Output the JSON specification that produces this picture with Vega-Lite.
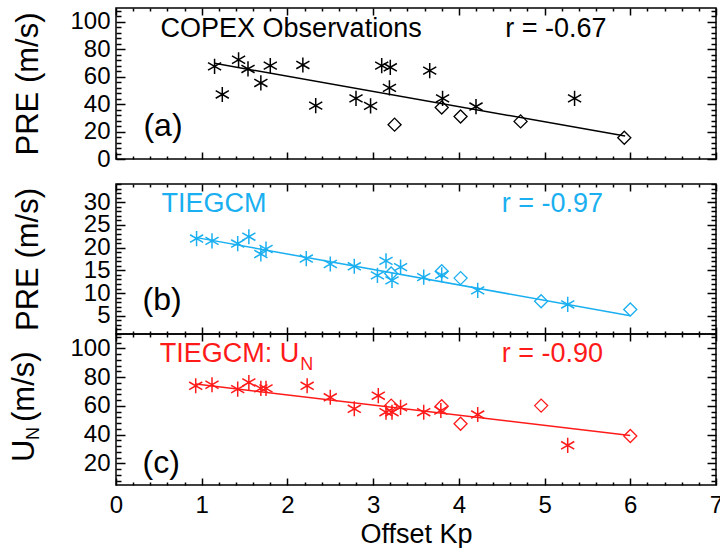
{
  "$schema": "https://vega.github.io/schema/vega-lite/v6.json",
  "padding": {"left": 8, "top": 6, "right": 0, "bottom": 0},
  "background": "white",
  "config": {
    "view": {"stroke": "black", "strokeWidth": 1.5},
    "axis": {"zindex": 2, "ticks": true, "domain": false, "tickColor": "#000000", "tickOpacity": 1, "tickWidth": 1.5, "tickCap": "butt", "labelFont": "Liberation Sans", "labelFontSize": 24, "labelColor": "black", "titleFont": "Liberation Sans", "titleFontSize": 31, "titleFontWeight": "normal", "titleColor": "black", "grid": false, "labelOverlap": false, "labelFlush": false, "labelBound": false, "format": "d"},
    "text": {"font": "Liberation Sans"}
  },
  "datasets": {
    "pts": [
      {"panel": "a", "series": "star", "x": 1.15, "y": 67.5},
      {"panel": "a", "series": "star", "x": 1.24, "y": 47},
      {"panel": "a", "series": "star", "x": 1.43, "y": 72.3},
      {"panel": "a", "series": "star", "x": 1.54, "y": 65.6},
      {"panel": "a", "series": "star", "x": 1.69, "y": 55.4},
      {"panel": "a", "series": "star", "x": 1.8, "y": 68},
      {"panel": "a", "series": "star", "x": 2.18, "y": 68.5},
      {"panel": "a", "series": "star", "x": 2.33, "y": 38.9},
      {"panel": "a", "series": "star", "x": 2.8, "y": 44.2},
      {"panel": "a", "series": "star", "x": 2.97, "y": 38.7},
      {"panel": "a", "series": "star", "x": 3.1, "y": 68},
      {"panel": "a", "series": "star", "x": 3.2, "y": 66.8},
      {"panel": "a", "series": "star", "x": 3.19, "y": 51.8},
      {"panel": "a", "series": "star", "x": 3.66, "y": 64.4},
      {"panel": "a", "series": "star", "x": 3.81, "y": 44.2},
      {"panel": "a", "series": "star", "x": 4.2, "y": 38.2},
      {"panel": "a", "series": "star", "x": 5.35, "y": 44.2},
      {"panel": "a", "series": "diamond", "x": 3.25, "y": 25},
      {"panel": "a", "series": "diamond", "x": 3.8, "y": 37.5},
      {"panel": "a", "series": "diamond", "x": 4.02, "y": 31},
      {"panel": "a", "series": "diamond", "x": 4.72, "y": 27.4},
      {"panel": "a", "series": "diamond", "x": 5.93, "y": 15.5},
      {"panel": "b", "series": "star", "x": 0.94, "y": 22.0},
      {"panel": "b", "series": "star", "x": 1.12, "y": 21.5},
      {"panel": "b", "series": "star", "x": 1.42, "y": 20.9},
      {"panel": "b", "series": "star", "x": 1.55, "y": 22.4},
      {"panel": "b", "series": "star", "x": 1.69, "y": 18.6},
      {"panel": "b", "series": "star", "x": 1.75, "y": 19.7},
      {"panel": "b", "series": "star", "x": 2.22, "y": 17.6},
      {"panel": "b", "series": "star", "x": 2.5, "y": 16.4},
      {"panel": "b", "series": "star", "x": 2.78, "y": 15.9},
      {"panel": "b", "series": "star", "x": 3.05, "y": 13.9},
      {"panel": "b", "series": "star", "x": 3.15, "y": 17.1},
      {"panel": "b", "series": "star", "x": 3.22, "y": 12.8},
      {"panel": "b", "series": "star", "x": 3.32, "y": 15.7},
      {"panel": "b", "series": "star", "x": 3.59, "y": 13.5},
      {"panel": "b", "series": "star", "x": 3.8, "y": 14.0},
      {"panel": "b", "series": "star", "x": 4.22, "y": 10.6},
      {"panel": "b", "series": "star", "x": 5.27, "y": 7.5},
      {"panel": "b", "series": "diamond", "x": 3.21, "y": 14.3},
      {"panel": "b", "series": "diamond", "x": 3.8, "y": 14.8},
      {"panel": "b", "series": "diamond", "x": 4.02, "y": 13.3},
      {"panel": "b", "series": "diamond", "x": 4.96, "y": 8.2},
      {"panel": "b", "series": "diamond", "x": 6.0, "y": 6.4},
      {"panel": "c", "series": "star", "x": 0.93, "y": 74},
      {"panel": "c", "series": "star", "x": 1.12, "y": 74.7},
      {"panel": "c", "series": "star", "x": 1.42, "y": 71.7},
      {"panel": "c", "series": "star", "x": 1.55, "y": 76.3},
      {"panel": "c", "series": "star", "x": 1.69, "y": 72.2},
      {"panel": "c", "series": "star", "x": 1.75, "y": 72.2},
      {"panel": "c", "series": "star", "x": 2.23, "y": 74},
      {"panel": "c", "series": "star", "x": 2.5, "y": 66},
      {"panel": "c", "series": "star", "x": 2.78, "y": 58},
      {"panel": "c", "series": "star", "x": 3.06, "y": 67.1},
      {"panel": "c", "series": "star", "x": 3.15, "y": 55.6},
      {"panel": "c", "series": "star", "x": 3.22, "y": 55.6},
      {"panel": "c", "series": "star", "x": 3.32, "y": 59},
      {"panel": "c", "series": "star", "x": 3.59, "y": 55.6},
      {"panel": "c", "series": "star", "x": 3.79, "y": 56.8},
      {"panel": "c", "series": "star", "x": 4.22, "y": 54},
      {"panel": "c", "series": "star", "x": 5.27, "y": 32.6},
      {"panel": "c", "series": "diamond", "x": 3.21, "y": 60.2},
      {"panel": "c", "series": "diamond", "x": 3.8, "y": 59.8},
      {"panel": "c", "series": "diamond", "x": 4.02, "y": 47.6},
      {"panel": "c", "series": "diamond", "x": 4.96, "y": 60.2},
      {"panel": "c", "series": "diamond", "x": 6.0, "y": 39.1}
    ],
    "fits": [
      {"panel": "a", "x": 1.15, "y": 69.7},
      {"panel": "a", "x": 5.94, "y": 16.7},
      {"panel": "b", "x": 0.94, "y": 22.2},
      {"panel": "b", "x": 6.0, "y": 5.0},
      {"panel": "c", "x": 0.93, "y": 75.2},
      {"panel": "c", "x": 6.0, "y": 39.5}
    ],
    "notes": [
      {"panel": "a", "role": "label", "x": 0.52, "y": 95, "text": "COPEX Observations"},
      {"panel": "a", "role": "label", "x": 4.54, "y": 95, "text": "r = -0.67"},
      {"panel": "a", "role": "tag", "x": 0.32, "y": 24, "text": "(a)"},
      {"panel": "b", "role": "label", "x": 0.53, "y": 29.5, "text": "TIEGCM"},
      {"panel": "b", "role": "label", "x": 4.5, "y": 29.5, "text": "r = -0.97"},
      {"panel": "b", "role": "tag", "x": 0.31, "y": 8.4, "text": "(b)"},
      {"panel": "c", "role": "label", "x": 0.51, "y": 95.9, "text": "TIEGCM: U"},
      {"panel": "c", "role": "sub", "x": 2.15, "y": 88.5, "text": "N"},
      {"panel": "c", "role": "label", "x": 4.5, "y": 95.9, "text": "r = -0.90"},
      {"panel": "c", "role": "tag", "x": 0.31, "y": 20.5, "text": "(c)"},
      {"panel": "c", "role": "ytitle", "x": -1.06, "y": 21, "text": "U"},
      {"panel": "c", "role": "ytitle", "x": -1.06, "y": 48.8, "text": "(m/s)"},
      {"panel": "c", "role": "ysub", "x": -0.96, "y": 36.3, "text": "N"}
    ]
  },
  "spacing": 25,
  "bounds": "flush",
  "vconcat": [
    {
      "width": 600, "height": 151,
      "resolve": {"axis": {"x": "independent", "y": "independent"}},
      "layer": [
        {"data": {"name": "fits"}, "transform": [{"filter": "datum.panel === 'a'"}],
         "mark": {"type": "line", "color": "black", "strokeWidth": 1.5},
         "encoding": {
           "x": {"field": "x", "type": "quantitative", "scale": {"domain": [0, 7], "nice": false, "zero": false},
                 "axis": {"orient": "bottom", "values": [0,1,2,3,4,5,6,7], "labels": false, "title": null, "tickSize": 7, "offset": -7}},
           "y": {"field": "y", "type": "quantitative", "scale": {"domain": [0, 110], "nice": false, "zero": false},
                 "axis": {"orient": "left", "values": [0,20,40,60,80,100], "tickSize": 9, "offset": -9, "labelPadding": 6,
                          "title": "PRE (m/s)", "titleX": -97, "titleY": 75.5, "titleAngle": 270, "titleAlign": "center", "titleBaseline": "middle"}}
         }},
        {"data": {"name": "pts"}, "transform": [{"filter": "datum.panel === 'a' && datum.series === 'star'"}],
         "mark": {"type": "point", "shape": "M0,-1L0,1M-0.866,-0.5L0.866,0.5M-0.866,0.5L0.866,-0.5", "filled": false, "stroke": "black", "strokeWidth": 1.5, "size": 230, "opacity": 1},
         "encoding": {
           "x": {"field": "x", "type": "quantitative", "scale": {"domain": [0, 7], "nice": false, "zero": false},
                 "axis": {"orient": "top", "values": [0,1,2,3,4,5,6,7], "labels": false, "title": null, "tickSize": 7, "offset": -7}},
           "y": {"field": "y", "type": "quantitative", "scale": {"domain": [0, 110], "nice": false, "zero": false},
                 "axis": {"orient": "right", "values": [0,20,40,60,80,100], "labels": false, "title": null, "tickSize": 9, "offset": -9}}
         }},
        {"data": {"name": "pts"}, "transform": [{"filter": "datum.panel === 'a' && datum.series === 'diamond'"}],
         "mark": {"type": "point", "shape": "diamond", "filled": false, "stroke": "black", "strokeWidth": 1.3, "size": 170, "opacity": 1},
         "encoding": {
           "x": {"field": "x", "type": "quantitative", "scale": {"domain": [0, 7], "nice": false, "zero": false},
                 "axis": {"orient": "bottom", "values": [0.2,0.4,0.6,0.8,1.2,1.4,1.6,1.8,2.2,2.4,2.6,2.8,3.2,3.4,3.6,3.8,4.2,4.4,4.6,4.8,5.2,5.4,5.6,5.8,6.2,6.4,6.6,6.8], "labels": false, "title": null, "tickSize": 3, "offset": -3}},
           "y": {"field": "y", "type": "quantitative", "scale": {"domain": [0, 110], "nice": false, "zero": false},
                 "axis": {"orient": "left", "values": [4,8,12,16,24,28,32,36,44,48,52,56,64,68,72,76,84,88,92,96,104,108], "labels": false, "title": null, "tickSize": 5, "offset": -5}}
         }},
        {"data": {"name": "notes"}, "transform": [{"filter": "datum.panel === 'a' && datum.role === 'label'"}],
         "mark": {"type": "text", "align": "left", "baseline": "middle", "fontSize": 27, "color": "black"},
         "encoding": {
           "x": {"field": "x", "type": "quantitative", "scale": {"domain": [0, 7], "nice": false, "zero": false},
                 "axis": {"orient": "top", "values": [0.2,0.4,0.6,0.8,1.2,1.4,1.6,1.8,2.2,2.4,2.6,2.8,3.2,3.4,3.6,3.8,4.2,4.4,4.6,4.8,5.2,5.4,5.6,5.8,6.2,6.4,6.6,6.8], "labels": false, "title": null, "tickSize": 3, "offset": -3}},
           "y": {"field": "y", "type": "quantitative", "scale": {"domain": [0, 110], "nice": false, "zero": false},
                 "axis": {"orient": "right", "values": [4,8,12,16,24,28,32,36,44,48,52,56,64,68,72,76,84,88,92,96,104,108], "labels": false, "title": null, "tickSize": 5, "offset": -5}},
           "text": {"field": "text"}
         }},
        {"data": {"name": "notes"}, "transform": [{"filter": "datum.panel === 'a' && datum.role === 'tag'"}],
         "mark": {"type": "text", "align": "left", "baseline": "middle", "fontSize": 32, "color": "black"},
         "encoding": {
           "x": {"field": "x", "type": "quantitative", "scale": {"domain": [0, 7], "nice": false, "zero": false}, "axis": null},
           "y": {"field": "y", "type": "quantitative", "scale": {"domain": [0, 110], "nice": false, "zero": false}, "axis": null},
           "text": {"field": "text"}
         }}
      ]
    },
    {
      "spacing": 0,
      "bounds": "flush",
      "vconcat": [
        {
          "width": 600, "height": 150,
          "resolve": {"axis": {"x": "independent", "y": "independent"}},
          "layer": [
            {"data": {"name": "fits"}, "transform": [{"filter": "datum.panel === 'b'"}],
             "mark": {"type": "line", "color": "#1AAFF0", "strokeWidth": 1.5},
             "encoding": {
               "x": {"field": "x", "type": "quantitative", "scale": {"domain": [0, 7], "nice": false, "zero": false},
                     "axis": {"orient": "bottom", "values": [0,1,2,3,4,5,6,7], "labels": false, "title": null, "tickSize": 7, "offset": -7}},
               "y": {"field": "y", "type": "quantitative", "scale": {"domain": [1, 34], "nice": false, "zero": false},
                     "axis": {"orient": "left", "values": [5,10,15,20,25,30], "tickSize": 9, "offset": -9, "labelPadding": 6,
                              "title": "PRE (m/s)", "titleX": -97, "titleY": 75, "titleAngle": 270, "titleAlign": "center", "titleBaseline": "middle"}}
             }},
            {"data": {"name": "pts"}, "transform": [{"filter": "datum.panel === 'b' && datum.series === 'star'"}],
             "mark": {"type": "point", "shape": "M0,-1L0,1M-0.866,-0.5L0.866,0.5M-0.866,0.5L0.866,-0.5", "filled": false, "stroke": "#1AAFF0", "strokeWidth": 1.5, "size": 230, "opacity": 1},
             "encoding": {
               "x": {"field": "x", "type": "quantitative", "scale": {"domain": [0, 7], "nice": false, "zero": false},
                     "axis": {"orient": "top", "values": [0,1,2,3,4,5,6,7], "labels": false, "title": null, "tickSize": 7, "offset": -7}},
               "y": {"field": "y", "type": "quantitative", "scale": {"domain": [1, 34], "nice": false, "zero": false},
                     "axis": {"orient": "right", "values": [5,10,15,20,25,30], "labels": false, "title": null, "tickSize": 9, "offset": -9}}
             }},
            {"data": {"name": "pts"}, "transform": [{"filter": "datum.panel === 'b' && datum.series === 'diamond'"}],
             "mark": {"type": "point", "shape": "diamond", "filled": false, "stroke": "#1AAFF0", "strokeWidth": 1.3, "size": 170, "opacity": 1},
             "encoding": {
               "x": {"field": "x", "type": "quantitative", "scale": {"domain": [0, 7], "nice": false, "zero": false},
                     "axis": {"orient": "bottom", "values": [0.2,0.4,0.6,0.8,1.2,1.4,1.6,1.8,2.2,2.4,2.6,2.8,3.2,3.4,3.6,3.8,4.2,4.4,4.6,4.8,5.2,5.4,5.6,5.8,6.2,6.4,6.6,6.8], "labels": false, "title": null, "tickSize": 3, "offset": -3}},
               "y": {"field": "y", "type": "quantitative", "scale": {"domain": [1, 34], "nice": false, "zero": false},
                     "axis": {"orient": "left", "values": [1,2,3,4,6,7,8,9,11,12,13,14,16,17,18,19,21,22,23,24,26,27,28,29,31,32,33,34], "labels": false, "title": null, "tickSize": 5, "offset": -5}}
             }},
            {"data": {"name": "notes"}, "transform": [{"filter": "datum.panel === 'b' && datum.role === 'label'"}],
             "mark": {"type": "text", "align": "left", "baseline": "middle", "fontSize": 27, "color": "#1AAFF0"},
             "encoding": {
               "x": {"field": "x", "type": "quantitative", "scale": {"domain": [0, 7], "nice": false, "zero": false},
                     "axis": {"orient": "top", "values": [0.2,0.4,0.6,0.8,1.2,1.4,1.6,1.8,2.2,2.4,2.6,2.8,3.2,3.4,3.6,3.8,4.2,4.4,4.6,4.8,5.2,5.4,5.6,5.8,6.2,6.4,6.6,6.8], "labels": false, "title": null, "tickSize": 3, "offset": -3}},
               "y": {"field": "y", "type": "quantitative", "scale": {"domain": [1, 34], "nice": false, "zero": false},
                     "axis": {"orient": "right", "values": [1,2,3,4,6,7,8,9,11,12,13,14,16,17,18,19,21,22,23,24,26,27,28,29,31,32,33,34], "labels": false, "title": null, "tickSize": 5, "offset": -5}},
               "text": {"field": "text"}
             }},
            {"data": {"name": "notes"}, "transform": [{"filter": "datum.panel === 'b' && datum.role === 'tag'"}],
             "mark": {"type": "text", "align": "left", "baseline": "middle", "fontSize": 32, "color": "black"},
             "encoding": {
               "x": {"field": "x", "type": "quantitative", "scale": {"domain": [0, 7], "nice": false, "zero": false}, "axis": null},
               "y": {"field": "y", "type": "quantitative", "scale": {"domain": [1, 34], "nice": false, "zero": false}, "axis": null},
               "text": {"field": "text"}
             }}
          ]
        },
        {
          "width": 600, "height": 151,
          "resolve": {"axis": {"x": "independent", "y": "independent"}},
          "layer": [
            {"data": {"name": "fits"}, "transform": [{"filter": "datum.panel === 'c'"}],
             "mark": {"type": "line", "color": "#FF1A1A", "strokeWidth": 1.5},
             "encoding": {
               "x": {"field": "x", "type": "quantitative", "scale": {"domain": [0, 7], "nice": false, "zero": false},
                     "axis": {"orient": "bottom", "values": [0,1,2,3,4,5,6,7], "tickSize": 7, "offset": -7, "labelPadding": 8,
                              "title": "Offset Kp", "titleFontSize": 27, "titlePadding": 4}},
               "y": {"field": "y", "type": "quantitative", "scale": {"domain": [5, 110], "nice": false, "zero": false},
                     "axis": {"orient": "left", "values": [20,40,60,80,100], "tickSize": 9, "offset": -9, "labelPadding": 6, "title": null}}
             }},
            {"data": {"name": "pts"}, "transform": [{"filter": "datum.panel === 'c' && datum.series === 'star'"}],
             "mark": {"type": "point", "shape": "M0,-1L0,1M-0.866,-0.5L0.866,0.5M-0.866,0.5L0.866,-0.5", "filled": false, "stroke": "#FF1A1A", "strokeWidth": 1.5, "size": 230, "opacity": 1},
             "encoding": {
               "x": {"field": "x", "type": "quantitative", "scale": {"domain": [0, 7], "nice": false, "zero": false},
                     "axis": {"orient": "top", "values": [0,1,2,3,4,5,6,7], "labels": false, "title": null, "tickSize": 7, "offset": -7}},
               "y": {"field": "y", "type": "quantitative", "scale": {"domain": [5, 110], "nice": false, "zero": false},
                     "axis": {"orient": "right", "values": [20,40,60,80,100], "labels": false, "title": null, "tickSize": 9, "offset": -9}}
             }},
            {"data": {"name": "pts"}, "transform": [{"filter": "datum.panel === 'c' && datum.series === 'diamond'"}],
             "mark": {"type": "point", "shape": "diamond", "filled": false, "stroke": "#FF1A1A", "strokeWidth": 1.3, "size": 170, "opacity": 1},
             "encoding": {
               "x": {"field": "x", "type": "quantitative", "scale": {"domain": [0, 7], "nice": false, "zero": false},
                     "axis": {"orient": "bottom", "values": [0.2,0.4,0.6,0.8,1.2,1.4,1.6,1.8,2.2,2.4,2.6,2.8,3.2,3.4,3.6,3.8,4.2,4.4,4.6,4.8,5.2,5.4,5.6,5.8,6.2,6.4,6.6,6.8], "labels": false, "title": null, "tickSize": 3, "offset": -3}},
               "y": {"field": "y", "type": "quantitative", "scale": {"domain": [5, 110], "nice": false, "zero": false},
                     "axis": {"orient": "left", "values": [8,12,16,24,28,32,36,44,48,52,56,64,68,72,76,84,88,92,96,104,108], "labels": false, "title": null, "tickSize": 5, "offset": -5}}
             }},
            {"data": {"name": "notes"}, "transform": [{"filter": "datum.panel === 'c' && datum.role === 'label'"}],
             "mark": {"type": "text", "align": "left", "baseline": "middle", "fontSize": 27, "color": "#FF1A1A"},
             "encoding": {
               "x": {"field": "x", "type": "quantitative", "scale": {"domain": [0, 7], "nice": false, "zero": false},
                     "axis": {"orient": "top", "values": [0.2,0.4,0.6,0.8,1.2,1.4,1.6,1.8,2.2,2.4,2.6,2.8,3.2,3.4,3.6,3.8,4.2,4.4,4.6,4.8,5.2,5.4,5.6,5.8,6.2,6.4,6.6,6.8], "labels": false, "title": null, "tickSize": 3, "offset": -3}},
               "y": {"field": "y", "type": "quantitative", "scale": {"domain": [5, 110], "nice": false, "zero": false},
                     "axis": {"orient": "right", "values": [8,12,16,24,28,32,36,44,48,52,56,64,68,72,76,84,88,92,96,104,108], "labels": false, "title": null, "tickSize": 5, "offset": -5}},
               "text": {"field": "text"}
             }},
            {"data": {"name": "notes"}, "transform": [{"filter": "datum.panel === 'c' && datum.role === 'sub'"}],
             "mark": {"type": "text", "align": "left", "baseline": "middle", "fontSize": 18, "color": "#FF1A1A"},
             "encoding": {
               "x": {"field": "x", "type": "quantitative", "scale": {"domain": [0, 7], "nice": false, "zero": false}, "axis": null},
               "y": {"field": "y", "type": "quantitative", "scale": {"domain": [5, 110], "nice": false, "zero": false}, "axis": null},
               "text": {"field": "text"}
             }},
            {"data": {"name": "notes"}, "transform": [{"filter": "datum.panel === 'c' && datum.role === 'tag'"}],
             "mark": {"type": "text", "align": "left", "baseline": "middle", "fontSize": 32, "color": "black"},
             "encoding": {
               "x": {"field": "x", "type": "quantitative", "scale": {"domain": [0, 7], "nice": false, "zero": false}, "axis": null},
               "y": {"field": "y", "type": "quantitative", "scale": {"domain": [5, 110], "nice": false, "zero": false}, "axis": null},
               "text": {"field": "text"}
             }},
            {"data": {"name": "notes"}, "transform": [{"filter": "datum.panel === 'c' && datum.role === 'ytitle'"}],
             "mark": {"type": "text", "align": "left", "baseline": "middle", "fontSize": 31, "angle": 270, "color": "black"},
             "encoding": {
               "x": {"field": "x", "type": "quantitative", "scale": {"domain": [0, 7], "nice": false, "zero": false}, "axis": null},
               "y": {"field": "y", "type": "quantitative", "scale": {"domain": [5, 110], "nice": false, "zero": false}, "axis": null},
               "text": {"field": "text"}
             }},
            {"data": {"name": "notes"}, "transform": [{"filter": "datum.panel === 'c' && datum.role === 'ysub'"}],
             "mark": {"type": "text", "align": "left", "baseline": "middle", "fontSize": 18, "angle": 270, "color": "black"},
             "encoding": {
               "x": {"field": "x", "type": "quantitative", "scale": {"domain": [0, 7], "nice": false, "zero": false}, "axis": null},
               "y": {"field": "y", "type": "quantitative", "scale": {"domain": [5, 110], "nice": false, "zero": false}, "axis": null},
               "text": {"field": "text"}
             }}
          ]
        }
      ]
    }
  ]
}
